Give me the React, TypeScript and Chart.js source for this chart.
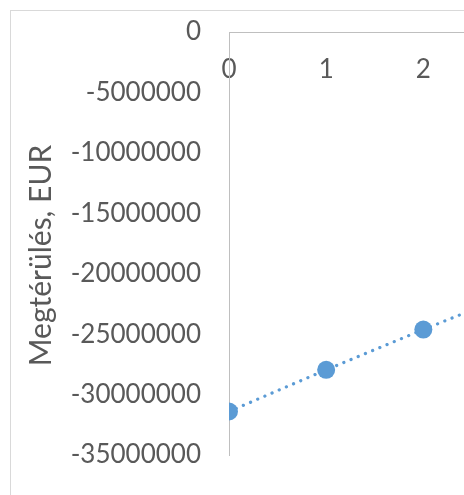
import React, { useEffect, useRef } from "react";
import { Chart, registerables } from "chart.js";

Chart.register(...registerables);

const years = [0, 1, 2, 3];
const payback = [-31400000, -27950000, -24620000, -21400000];
const yMin = -35000000;
const yMax = 0;
const yStep = 5000000;
const xMin = 0;
const xMax = 6;
const yTitle = "Megtérülés, EUR";

const FONT = "Lato, 'Open Sans', sans-serif";
const TEXT = "#595959";
const AXIS = "#bfbfbf";
const BLUE = "#5b9bd5";

export default function App() {
  const ref = useRef<HTMLCanvasElement | null>(null);
  useEffect(() => {
    if (!ref.current) return;
    const chart = new Chart(ref.current, {
      type: "line",
      data: {
        datasets: [
          {
            data: years.map((x, i) => ({ x, y: payback[i] })),
            borderColor: BLUE,
            backgroundColor: BLUE,
            borderWidth: 3.2,
            borderDash: [0.1, 7.7],
            borderCapStyle: "round",
            pointRadius: 9,
            pointHoverRadius: 9,
            pointBorderWidth: 0,
            pointBackgroundColor: BLUE,
            tension: 0,
            fill: false,
          },
        ],
      },
      options: {
        animation: false,
        responsive: false,
        maintainAspectRatio: false,
        layout: { padding: { left: 0, top: 32, right: 20, bottom: 25 } },
        plugins: { legend: { display: false }, tooltip: { enabled: false } },
        scales: {
          x: {
            type: "linear",
            position: { y: 0 } as any,
            min: xMin,
            max: xMax,
            grid: { display: false, drawTicks: true, tickLength: 22 },
            border: { display: true, color: AXIS, width: 1 },
            ticks: {
              stepSize: 1,
              padding: 0,
              color: TEXT,
              font: { family: FONT, size: 26 },
              callback: (v: any) => String(v),
            },
            afterFit: (s: any) => {
              s.height = 0;
            },
          },
          y: {
            type: "linear",
            position: "left",
            min: yMin,
            max: yMax,
            grid: { display: false, drawTicks: true, tickLength: 28 },
            border: { display: true, color: AXIS, width: 1 },
            ticks: {
              stepSize: yStep,
              padding: 0,
              color: TEXT,
              font: { family: FONT, size: 26 },
              callback: (v: any) => String(v),
            },
            title: {
              display: true,
              text: yTitle,
              color: TEXT,
              font: { family: FONT, size: 30 },
              padding: { top: 23, bottom: 0 },
            },
            afterFit: (s: any) => {
              s.width = 229;
            },
          },
        },
      },
    });
    const ys: any = chart.scales.y;
    const origDrawTitle = ys.drawTitle.bind(ys);
    ys.drawTitle = function () {
      const ctx = ys.ctx;
      ctx.save();
      ctx.translate(0, 12);
      origDrawTitle();
      ctx.restore();
    };
    chart.draw();
    return () => chart.destroy();
  }, []);

  return (
    <div
      style={{
        position: "fixed",
        left: 0,
        top: 0,
        width: 464,
        height: 495,
        overflow: "hidden",
        background: "#ffffff",
      }}
    >
      <div
        style={{
          position: "absolute",
          left: 10,
          top: 10,
          width: 1200,
          height: 1200,
          border: "1px solid #d9d9d9",
        }}
      />
      <canvas
        ref={ref}
        width={832}
        height={480}
        style={{ position: "absolute", left: 0, top: 0, width: 832, height: 480 }}
      />
    </div>
  );
}
